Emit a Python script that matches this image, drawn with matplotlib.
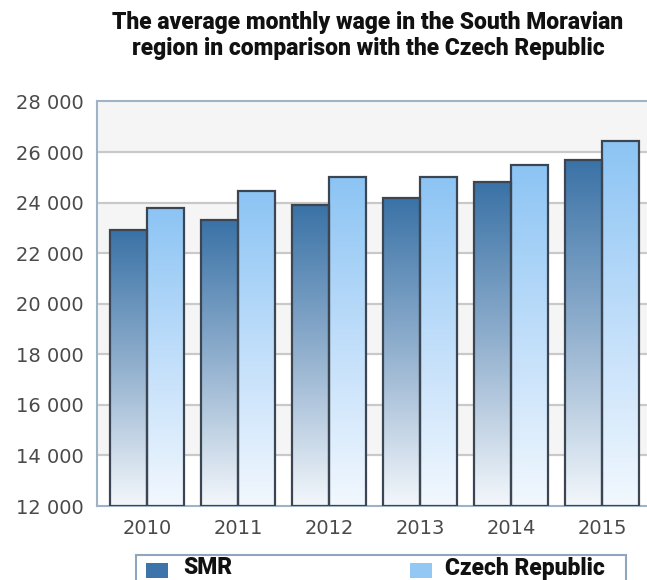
import numpy as np
import matplotlib.pyplot as plt
from matplotlib.colors import LinearSegmentedColormap
from matplotlib.patches import Rectangle

years = ["2010", "2011", "2012", "2013", "2014", "2015"]
smr = [22900, 23300, 23900, 24200, 24800, 25700]
czech = [23800, 24450, 25000, 25000, 25500, 26450]
series_names = ["SMR", "Czech Republic"]
yticks = [12000, 14000, 16000, 18000, 20000, 22000, 24000, 26000, 28000]

W, H = 647, 580
fig = plt.figure(figsize=(W / 100, H / 100), dpi=100)
fig.patch.set_facecolor("white")

# axes placed in pixels, right edge runs past the figure like the original
left, right, top, bottom = 96.5, 655, 101.5, 506
ax = fig.add_axes([left / W, (H - bottom) / H, (right - left) / W, (bottom - top) / H])

ymin, ymax = 12000, 28000

# alternating bands
for k, y0 in enumerate(yticks[:-1]):
    if k % 2 == 1:
        ax.axhspan(y0, y0 + 2000, color="#f5f5f5", zorder=0, lw=0)
for y in yticks[1:-1]:
    ax.axhline(y, color="#c9c9c9", lw=1.6, zorder=1)

cmap_smr = LinearSegmentedColormap.from_list("smr", ["#f3f7fb", "#93b1cf", "#3a72a6"])
cmap_cz = LinearSegmentedColormap.from_list("cz", ["#f2f8fe", "#c0defa", "#8cc4f4"])
grad = np.linspace(0, 1, 256).reshape(-1, 1)

bw = 37 / 91
x = np.arange(len(years))
for vals, cmap, off in [(smr, cmap_smr, -bw / 2), (czech, cmap_cz, bw / 2)]:
    for xi, v in zip(x, vals):
        x0 = xi + off - bw / 2
        ax.imshow(grad, cmap=cmap, origin="lower", aspect="auto",
                  extent=[x0, x0 + bw, ymin, v], zorder=2, interpolation="bilinear")
        ax.add_patch(Rectangle((x0, ymin), bw, v - ymin, fill=False,
                               edgecolor="#3b4652", lw=1.6, zorder=3))

ax.set_xlim(-0.555, -0.555 + (right - left) / 91)
ax.set_ylim(ymin, ymax)
ax.set_xticks(x)
ax.set_xticklabels(years)
ax.set_yticks(yticks)
ax.set_yticklabels([f"{t:,}".replace(",", " ") for t in yticks])
ax.tick_params(length=0, labelsize=14, labelcolor="#4a4a4a")
ax.tick_params(axis="y", pad=9)
ax.tick_params(axis="x", pad=9)
for s in ax.spines.values():
    s.set_color("#9fb3c7")
    s.set_linewidth(1.5)

title_lines = ["The average monthly wage in the South Moravian",
               "region in comparison with the Czech Republic"]
for ty, line in zip([22, 48], title_lines):
    fig.text(368 / W, 1 - ty / H, line, ha="center", va="center", fontsize=16.5,
             fontweight="black", family="Roboto", color="#111111")

# legend box
fig.add_artist(Rectangle((136 / W, -0.02), (626 - 136) / W, (H - 555) / H + 0.02,
                         transform=fig.transFigure, facecolor="white",
                         edgecolor="#8fa6bd", lw=1.5))
for name, col, sx, tx in [(series_names[0], "#3d75aa", 146, 183),
                          (series_names[1], "#93c8f5", 410, 445)]:
    fig.add_artist(Rectangle((sx / W, 1 - 578 / H), 22 / W, 15 / H,
                             transform=fig.transFigure, facecolor=col, edgecolor="none"))
    fig.text(tx / W, 1 - 568 / H, name, ha="left", va="center", fontsize=16.5,
             fontweight="black", family="Roboto", color="#111111")

fig.savefig("out.png", dpi=100)
